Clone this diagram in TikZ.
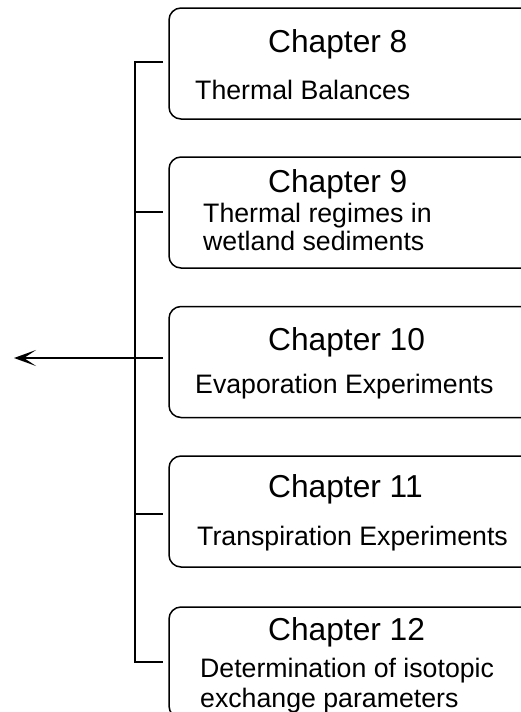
\documentclass[tikz,border=0pt]{standalone}
\usepackage{fontspec}
\setmainfont{Liberation Sans}
\usetikzlibrary{arrows.meta}
\tikzset{
  chapbox/.style={draw=black, line width=1.5pt, rounded corners=12pt, minimum width=366pt, minimum height=111pt, inner sep=0pt},
  chaptitle/.style={anchor=base west, inner sep=0pt, font=\fontsize{31.7}{36}\selectfont},
  chapsub/.style={anchor=base west, inner sep=0pt, font=\fontsize{26.7}{30}\selectfont},
  link/.style={line width=1.5pt},
}
\begin{document}
\begin{tikzpicture}[x=1pt,y=-1pt]
\useasboundingbox (0,0) rectangle (521,712);
% boxes
\node[chapbox] (b8)  at (352,63.5) {};
\node[chapbox] (b9)  at (352,212.5) {};
\node[chapbox] (b10) at (352,362) {};
\node[chapbox] (b11) at (352,511.5) {};
\node[chapbox] (b12) at (352,662.5) {};
% texts
\node[chaptitle] (t8) at (268,52) {Chapter 8};
\node[chapsub] (s8) at (195,99) {Thermal Balances};
\node[chaptitle] (t9) at (268,192) {Chapter 9};
\node[chapsub] (s9a) at (203,222) {Thermal regimes in};
\node[chapsub] (s9b) at (203,250) {wetland sediments};
\node[chaptitle] (t10) at (268,350) {Chapter 10};
\node[chapsub] (s10) at (195,393) {Evaporation Experiments};
\node[chaptitle] (t11) at (268,497) {Chapter 11};
\node[chapsub] (s11) at (197,545) {Transpiration Experiments};
\node[chaptitle] (t12) at (268,640) {Chapter 12};
\node[chapsub] (s12a) at (200,677) {Determination of isotopic};
\node[chapsub] (s12b) at (200,707) {exchange parameters};
% spine and ticks
\coordinate (p8) at (135,62);
\coordinate (p9) at (135,212);
\coordinate (p10) at (135,358);
\coordinate (p11) at (135,514);
\coordinate (p12) at (135,662);
\coordinate (e8) at (163,62);
\coordinate (e9) at (163,212);
\coordinate (e10) at (163,358);
\coordinate (e11) at (163,514);
\coordinate (e12) at (163,662);
\coordinate (out) at (14,358);
\draw[link] (e8) -- (p8) -- (p12) -- (e12);
\draw[link] (p9) -- (e9);
\draw[link] (p11) -- (e11);
\draw[link, -{Stealth[length=22pt,width=16pt,inset=12pt]}] (e10) -- (out);
\end{tikzpicture}
\end{document}
